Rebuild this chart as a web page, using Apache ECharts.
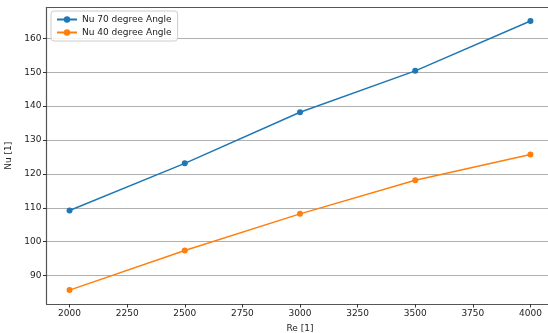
<!DOCTYPE html>
<html><head><meta charset="utf-8">
<script src="https://cdn.jsdelivr.net/npm/echarts@6/dist/echarts.min.js"></script>
<style>html,body{margin:0;padding:0;background:#fff}#c{width:548px;height:333px}</style>
</head><body><div id="c"></div>
<script>
const reValues = [2000, 2500, 3000, 3500, 4000];
const nu70 = [109.2, 123.1, 138.2, 150.4, 165.1];
const nu40 = [85.7, 97.4, 108.2, 118.1, 125.7];
const xTicks = [2000, 2250, 2500, 2750, 3000, 3250, 3500, 3750, 4000];
const yTicks = [90, 100, 110, 120, 130, 140, 150, 160];
const seriesNames = ['Nu 70 degree Angle', 'Nu 40 degree Angle'];

const font = 'DejaVu Sans';
const chart = echarts.init(document.getElementById('c'), null, {renderer: 'canvas'});
const mk = (name, vals, color) => ({
  name, type: 'line', data: reValues.map((x, i) => [x, vals[i]]),
  symbol: 'circle', symbolSize: 6, showSymbol: true,
  lineStyle: {width: 1.5, color}, itemStyle: {color}, emphasis: {disabled: true}
});
chart.setOption({
  animation: false,
  grid: {left: 46.5, top: 7.5, width: 507, height: 296.5, show: false,
         containLabel: false, outerBoundsMode: 'none'},
  legend: {
    orient: 'vertical', left: 51, top: 11, itemWidth: 20, itemHeight: 8, itemGap: 4,
    padding: [4, 6, 4, 5], borderColor: '#ccc', borderWidth: 1, borderRadius: 3,
    backgroundColor: 'rgba(255,255,255,0.85)',
    textStyle: {fontFamily: font, fontSize: 9, color: '#222'},
    data: seriesNames,
  },
  xAxis: [{
    type: 'value', min: 1900, max: 4100,
    name: 'Re [1]', nameLocation: 'middle', nameGap: 20,
    nameTextStyle: {fontFamily: font, fontSize: 9, color: '#222'},
    axisLine: {show: true, lineStyle: {color: '#555', width: 1.2}},
    axisTick: {show: true, length: 3.5, lineStyle: {color: '#333'}, customValues: xTicks},
    axisLabel: {fontFamily: font, fontSize: 9, color: '#222', margin: 5, customValues: xTicks,
                formatter: v => String(v)},
    splitLine: {show: false}
  }, {
    type: 'value', position: 'top', min: 1900, max: 4100,
    axisLine: {show: true, lineStyle: {color: '#555', width: 1.2}},
    axisTick: {show: false}, axisLabel: {show: false}, splitLine: {show: false}
  }],
  yAxis: {
    type: 'value', min: 81.6, max: 169.1,
    name: 'Nu [1]', nameLocation: 'middle', nameGap: 25, nameRotate: 90,
    nameTextStyle: {fontFamily: font, fontSize: 9, color: '#222'},
    axisLine: {show: true, lineStyle: {color: '#555', width: 1.2}},
    axisTick: {show: true, length: 3.5, lineStyle: {color: '#333'}, customValues: yTicks},
    axisLabel: {fontFamily: font, fontSize: 9, color: '#222', margin: 5, customValues: yTicks,
                formatter: v => String(v)},
    splitLine: {show: true, lineStyle: {color: '#b0b0b0', width: 1}}
  },
  series: [mk(seriesNames[0], nu70, '#1f77b4'), mk(seriesNames[1], nu40, '#ff7f0e')]
});
</script></body></html>
